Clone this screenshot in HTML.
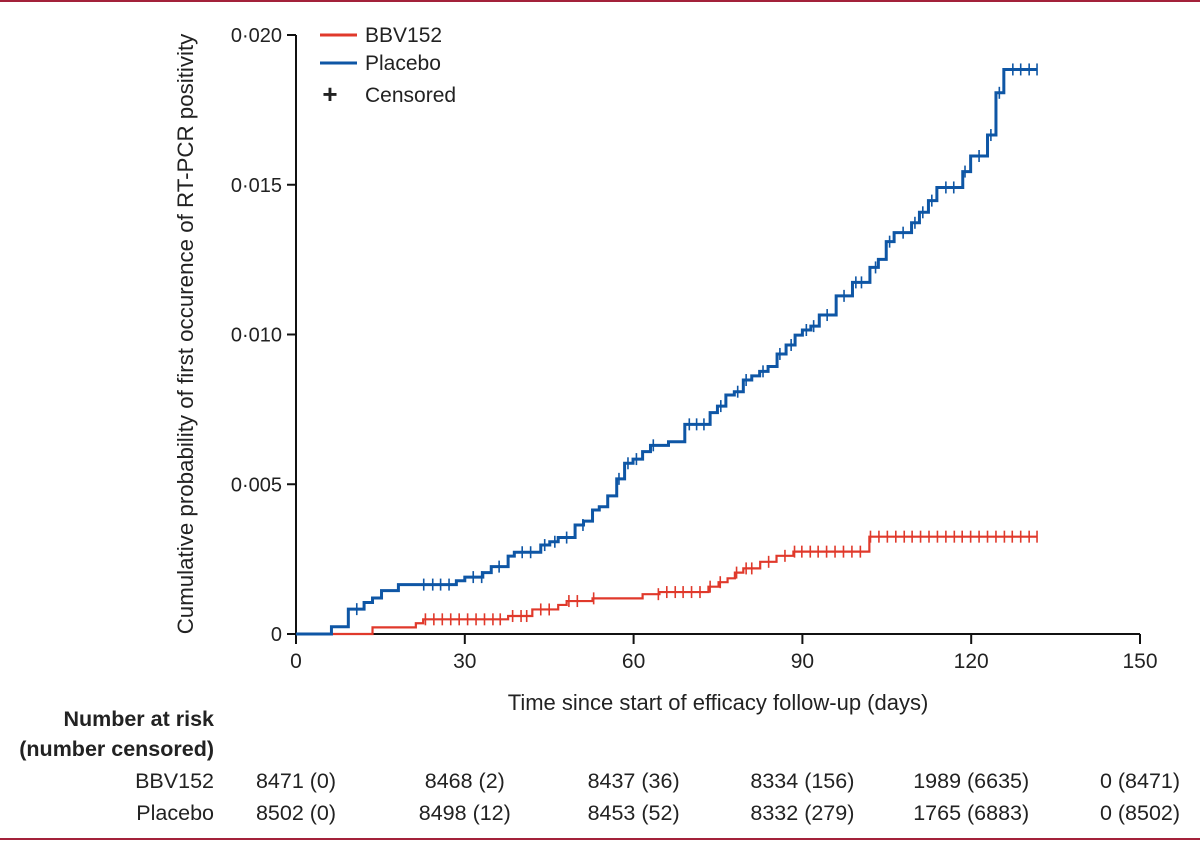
<!DOCTYPE html>
<html><head><meta charset="utf-8"><style>
html,body{margin:0;padding:0;background:#fff;}
svg{display:block;font-family:"Liberation Sans",sans-serif;}
</style></head><body>
<svg id="chart" width="1200" height="841" viewBox="0 0 1200 841">
<rect x="0" y="0" width="1200" height="2" fill="#a3213a"/>
<rect x="0" y="838" width="1200" height="2" fill="#a3213a"/>
<g id="axes"></g>
<g id="series"></g>
<g font-size="21" fill="#222">
 <line x1="320" y1="35" x2="357" y2="35" stroke="#e0392b" stroke-width="3"/>
 <text x="365" y="42">BBV152</text>
 <line x1="320" y1="63" x2="357" y2="63" stroke="#0e56a5" stroke-width="3"/>
 <text x="365" y="70">Placebo</text>
 <text x="330" y="103" text-anchor="middle" font-size="26" font-weight="bold">+</text>
 <text x="365" y="102">Censored</text>
</g>
<text x="718" y="710" text-anchor="middle" font-size="22" fill="#222">Time since start of efficacy follow-up (days)</text>
<text transform="translate(193,334) rotate(-90)" text-anchor="middle" font-size="22.3" fill="#222">Cumulative probability of first occurence of RT-PCR positivity</text>
<g font-size="21.5" fill="#222">
 <text x="214" y="726" text-anchor="end" font-weight="bold">Number at risk</text>
 <text x="214" y="756" text-anchor="end" font-weight="bold">(number censored)</text>
 <text x="214" y="788" text-anchor="end">BBV152</text>
 <text x="214" y="820" text-anchor="end">Placebo</text>
 <g id="riskrows"></g>
</g>
</svg>
<script>
const xTicks=[0,30,60,90,120,150];
const yTicks=[0,0.005,0.010,0.015,0.020];
const yTickLabels=["0","0·005","0·010","0·015","0·020"];
const placeboDays=[0,6.3,9.3,12.1,13.6,15.2,18.2,28.5,30,33.2,34.7,37.7,38.8,43.5,45.1,46.6,49.6,51.1,52.7,53.9,55.4,57,58.4,59.9,61.6,63,66.2,69.1,73.6,74.9,76.4,77.9,79.5,81,82.4,83.9,85.5,87.1,88.7,90,91.5,93,96,98.9,102,103.5,104.9,106.3,109.4,110.8,112.4,113.9,118.5,119.9,122.9,124.4,125.8];
const placeboVals=[0,0.00024,0.00083,0.00105,0.0012,0.00145,0.00165,0.00178,0.0019,0.00205,0.00225,0.0026,0.00273,0.00297,0.00308,0.00322,0.00364,0.00377,0.00414,0.00425,0.00461,0.00518,0.0057,0.00584,0.00609,0.0063,0.00642,0.0070,0.00739,0.00761,0.00798,0.00809,0.00848,0.00862,0.00877,0.00893,0.00935,0.00965,0.00998,0.01015,0.01028,0.01065,0.01129,0.01174,0.01224,0.01251,0.0131,0.0134,0.01373,0.01408,0.01447,0.01491,0.01544,0.01596,0.01666,0.01807,0.01885];
const placeboEnd=131.7;
const placeboCensor=[10.8,22.7,24.3,25.7,27.2,31.5,33,36.1,40.2,41.7,44.2,46,48.1,51,57.4,59,60.5,63.5,69.9,71.2,72.5,75.5,78.5,80,83,86,88,90.7,92,94.4,97.4,99.5,100.5,103,105.5,107.9,110,111.4,113,115.5,116.9,118.9,121.4,123.5,125,127.4,128.8,130.3,131.7];
const bbvDays=[0,13.6,21.3,22.6,37.7,42,46.6,48.1,52.7,61.6,64.6,73.3,75.1,76.7,78,79.5,82.5,85.4,88.4,101.9];
const bbvVals=[0,0.00022,0.00036,0.00049,0.0006,0.00082,0.00097,0.0011,0.00119,0.00133,0.0014,0.00158,0.00173,0.00186,0.00205,0.00219,0.00241,0.00261,0.00275,0.00325];
const bbvEnd=131.7;
const bbvCensor=[23,24.5,26,27.5,29,30.5,32,33.5,35,36.3,38.5,40,41,43.5,45,48.5,50,52.9,64.4,65.9,67.4,68.8,70.3,71.8,73.6,75.4,78.3,80,81,84,86.9,88.6,89.9,91.4,92.8,94.3,95.8,97.3,98.8,100.3,102.1,103.6,105.1,106.6,108.1,109.5,111,112.5,114,115.5,117,118.4,119.9,121.4,122.9,124.4,125.9,127.3,128.8,130.3,131.7];
const riskX=[0,30,60,90,120,150];
const riskBBV=["8471 (0)","8468 (2)","8437 (36)","8334 (156)","1989 (6635)","0 (8471)"];
const riskPlacebo=["8502 (0)","8498 (12)","8453 (52)","8332 (279)","1765 (6883)","0 (8502)"];

const NS="http://www.w3.org/2000/svg";
const X0=296,X1=1140,Y0=634,Y1=35;
const sx=d=>X0+(d-0)/150*(X1-X0);
const sy=v=>Y0-v/0.02*(Y0-Y1);
function mk(tag,attrs,parent){const e=document.createElementNS(NS,tag);for(const k in attrs)e.setAttribute(k,attrs[k]);parent.appendChild(e);return e;}
const axes=document.getElementById('axes');
let l=mk('line',{x1:X0,y1:Y1,x2:X0,y2:Y0,stroke:'#111','stroke-width':2},axes);


l=mk('line',{x1:X0,y1:Y0,x2:X1,y2:Y0,stroke:'#111','stroke-width':2},axes);


yTicks.forEach((v,i)=>{
 const t=mk('line',{x1:X0-9,y1:sy(v),x2:X0,y2:sy(v),stroke:'#111','stroke-width':2},axes);
 
 
 const tx=mk('text',{x:X0-14,y:sy(v)+7,'text-anchor':'end','font-size':20,fill:'#222'},axes);
 tx.textContent=yTickLabels[i];
 
 
});
xTicks.forEach(d=>{
 const t=mk('line',{x1:sx(d),y1:Y0,x2:sx(d),y2:Y0+10,stroke:'#111','stroke-width':2},axes);
 
 
 const tx=mk('text',{x:sx(d),y:668,'text-anchor':'middle','font-size':21,fill:'#222'},axes);
 tx.textContent=String(d);
 
 
});
function stepAt(days,vals,d){let v=vals[0];for(let i=0;i<days.length;i++){if(days[i]<=d+1e-9)v=vals[i];}return v;}
const ser=document.getElementById('series');
function drawSeries(days,vals,end,cens,color,name,w){
 let p='M'+sx(days[0])+','+sy(vals[0]);
 for(let i=1;i<days.length;i++){p+=' H'+sx(days[i])+' V'+sy(vals[i]);}
 p+=' H'+sx(end);
 const path=mk('path',{d:p,fill:'none',stroke:color,'stroke-width':w},ser);
 
 
 cens.forEach(d=>{
  const y=sy(stepAt(days,vals,d)),x=sx(d);
  const c=mk('path',{d:'M'+x+','+(y-6)+' V'+(y+6),stroke:color,'stroke-width':1.6},ser);
  
  
 });
}
drawSeries(bbvDays,bbvVals,bbvEnd,bbvCensor,'#e0392b','bbv152',2.2);
drawSeries(placeboDays,placeboVals,placeboEnd,placeboCensor,'#0e56a5',"placebo",3);
const rr=document.getElementById('riskrows');
riskX.forEach((d,i)=>{
 let t=mk('text',{x:sx(d),y:788,'text-anchor':'middle'},rr);
 t.textContent=riskBBV[i];
 
 
 t=mk('text',{x:sx(d),y:820,'text-anchor':'middle'},rr);
 t.textContent=riskPlacebo[i];
 
 
});
</script>
</body></html>
